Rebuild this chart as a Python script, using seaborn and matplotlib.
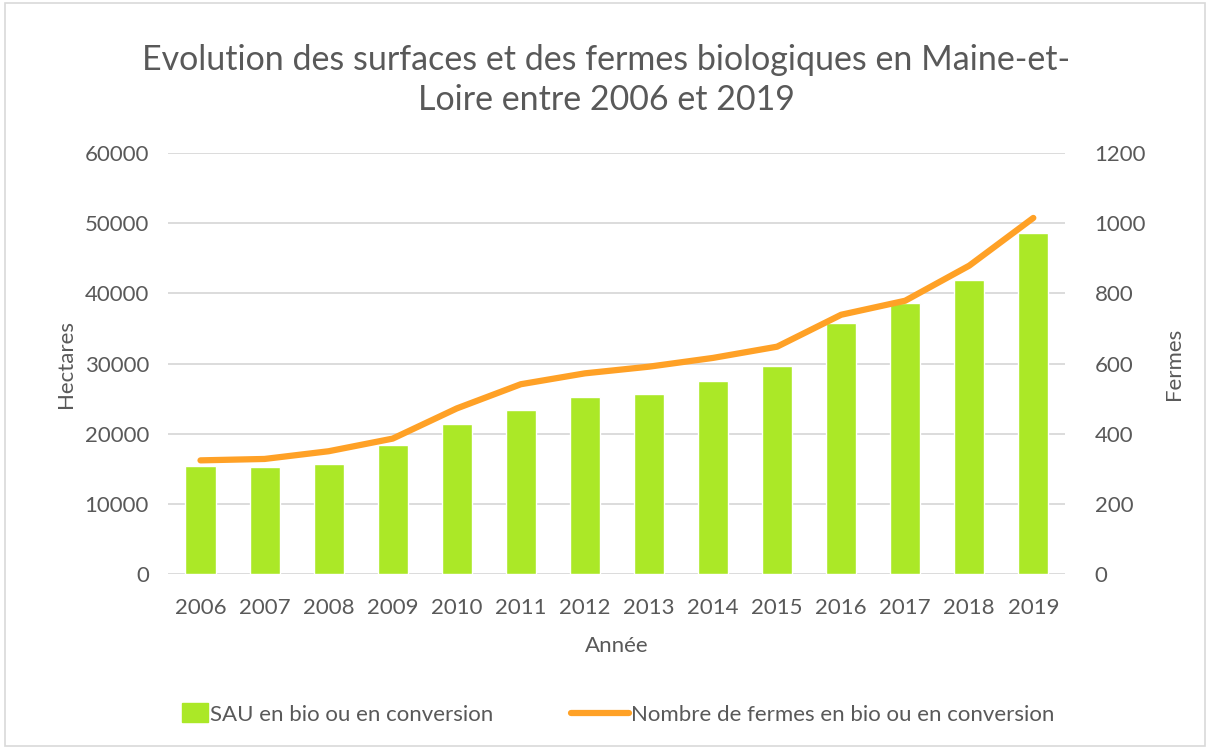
import numpy as np
import pandas as pd
import seaborn as sns
import matplotlib.pyplot as plt
from matplotlib.legend_handler import HandlerPatch

# données
annees = ['2006', '2007', '2008', '2009', '2010', '2011', '2012',
          '2013', '2014', '2015', '2016', '2017', '2018', '2019']
sau_hectares = [15360, 15210, 15690, 18400, 21360, 23360, 25210,
                25600, 27460, 29600, 35830, 38690, 41930, 48600]
nb_fermes = [324, 328, 350, 386, 472, 541, 572,
             591, 616, 648, 739, 779, 879, 1015]

df = pd.DataFrame({'annee': annees, 'sau': sau_hectares, 'fermes': nb_fermes})
df['pos'] = np.arange(len(df))

sns.set_style('white')
plt.rcParams['font.family'] = ['Lato', 'DejaVu Sans']
txt = '#595959'
vert = '#abe827'
orange = '#ffa126'

fig = plt.figure(figsize=(12.12, 7.49), dpi=100)
ax = fig.add_axes([0.139, 0.2336, 0.74, 0.5621])

sns.barplot(data=df, x='annee', y='sau', color=vert, width=0.47,
            saturation=1, ax=ax, zorder=2)
ax.set_ylim(0, 60000)
ax.set_yticks(range(0, 60001, 10000))
ax.grid(axis='y', color='#d9d9d9', linewidth=1.3, zorder=0)
ax.set_axisbelow(True)
ax.set_xlim(-0.5, len(df) - 0.5)

ax2 = ax.twinx()
sns.lineplot(data=df, x='pos', y='fermes', color=orange, linewidth=4.5,
             solid_capstyle='round', ax=ax2)
ax2.set_ylim(0, 1200)
ax2.set_yticks(range(0, 1201, 200))

for a in (ax, ax2):
    for s in a.spines.values():
        s.set_visible(False)
    a.tick_params(length=0, labelsize=16, colors=txt, pad=14)
ax.tick_params(axis='x', pad=17)
ax2.tick_params(axis='y', pad=21)

ax.set_xlabel('Année', fontsize=16, color=txt, labelpad=13)
ax.set_ylabel('Hectares', fontsize=16, color=txt, labelpad=6)
ax2.set_ylabel('Fermes', fontsize=16, color=txt, labelpad=13)

fig.suptitle('Evolution des surfaces et des fermes biologiques en Maine-et-\nLoire entre 2006 et 2019',
             fontsize=24.5, color=txt, y=0.941, linespacing=1.3)


# petit carré vert dans la légende, collé au texte
def petit_rect(legend, orig_handle, xdescent, ydescent, width, height, fontsize):
    w = width * 0.45
    return plt.Rectangle((-xdescent + width - w, -ydescent - height * 0.1), w, height * 1.2)


handles = [plt.Rectangle((0, 0), 1, 1, color=vert),
           plt.Line2D([0], [0], color=orange, linewidth=4.5, solid_capstyle='round')]
fig.legend(handles, ['SAU en bio ou en conversion', 'Nombre de fermes en bio ou en conversion'],
           loc='center', bbox_to_anchor=(0.497, 0.046), ncol=2, frameon=False,
           fontsize=16, labelcolor=txt, columnspacing=3.5, handlelength=2.6,
           handletextpad=0.1,
           handler_map={plt.Rectangle: HandlerPatch(patch_func=petit_rect)})

fig.patches.append(plt.Rectangle((0.004, 0.004), 0.99, 0.992, transform=fig.transFigure,
                                 fill=False, edgecolor='#d9d9d9', linewidth=1.2))

plt.savefig('out.png', dpi=100)
